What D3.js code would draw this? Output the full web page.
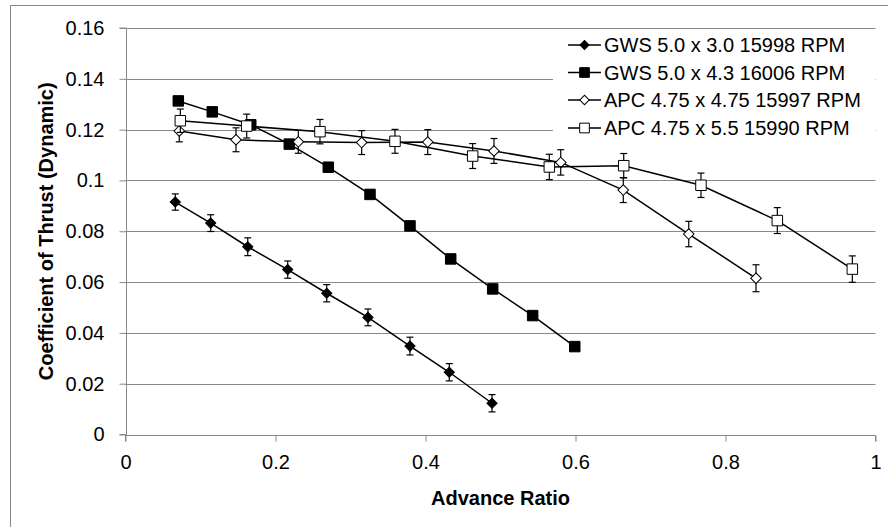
<!DOCTYPE html>
<html>
<head>
<meta charset="utf-8">
<script src="https://cdn.jsdelivr.net/npm/d3@7"></script>
<style>
  html, body { margin: 0; padding: 0; background: #fff; }
  svg { display: block; font-family: "Liberation Sans", Arial, sans-serif; }
</style>
</head>
<body>
<svg id="chart" width="888" height="527"></svg>
<script>
// Advance ratio (J) and dynamic thrust coefficient for each propeller
const gws30J   = [0.0664, 0.1136, 0.1630, 0.2163, 0.2683, 0.3233, 0.3793, 0.4317, 0.4887];
const gws30Ct  = [0.0915, 0.0832, 0.0739, 0.0649, 0.0556, 0.0461, 0.0348, 0.0245, 0.0123];
const gws30Err = [0.0032, 0.0033, 0.0035, 0.0034, 0.0034, 0.0033, 0.0035, 0.0034, 0.0034];

const gws43J   = [0.0704, 0.1157, 0.1670, 0.2184, 0.2704, 0.3260, 0.3793, 0.4336, 0.4896, 0.5429, 0.5990];
const gws43Ct  = [0.1313, 0.1270, 0.1219, 0.1143, 0.1052, 0.0945, 0.0821, 0.0691, 0.0573, 0.0468, 0.0346];

const apc475J   = [0.0717, 0.1473, 0.2304, 0.3149, 0.4030, 0.4913, 0.5803, 0.6637, 0.7510, 0.8407];
const apc475Ct  = [0.1195, 0.1160, 0.1152, 0.1149, 0.1151, 0.1116, 0.1071, 0.0962, 0.0789, 0.0615];
const apc475Err = [0.0043, 0.0047, 0.0045, 0.0047, 0.0049, 0.0049, 0.0050, 0.0049, 0.0050, 0.0053];

const apc55J   = [0.0731, 0.1616, 0.2593, 0.3593, 0.4629, 0.5651, 0.6643, 0.7673, 0.8691, 0.9691];
const apc55Ct  = [0.1235, 0.1214, 0.1192, 0.1154, 0.1096, 0.1053, 0.1058, 0.0981, 0.0842, 0.0651];
const apc55Err = [0.0046, 0.0047, 0.0048, 0.0047, 0.0049, 0.0050, 0.0048, 0.0048, 0.0051, 0.0052];

const seriesNames = [
  "GWS 5.0 x 3.0 15998 RPM",
  "GWS 5.0 x 4.3 16006 RPM",
  "APC 4.75 x 4.75 15997 RPM",
  "APC 4.75 x 5.5 15990 RPM"
];

const xTicks = [0, 0.2, 0.4, 0.6, 0.8, 1];
const yTicks = [0, 0.02, 0.04, 0.06, 0.08, 0.1, 0.12, 0.14, 0.16];

const xTitle = "Advance Ratio";
const yTitle = "Coefficient of Thrust (Dynamic)";

// Series table assembled from the arrays above (diamonds are squares turned 45°)
const series = [
  { name: seriesNames[0], x: gws30J,  y: gws30Ct,  err: gws30Err,  rot: 45, size: 52,  fill: "#000" },
  { name: seriesNames[1], x: gws43J,  y: gws43Ct,  err: null,      rot: 0,  size: 110, fill: "#000" },
  { name: seriesNames[2], x: apc475J, y: apc475Ct, err: apc475Err, rot: 45, size: 56,  fill: "#fff" },
  { name: seriesNames[3], x: apc55J,  y: apc55Ct,  err: apc55Err,  rot: 0,  size: 110, fill: "#fff" }
];

const svg = d3.select("#chart");
const gridColor = "#898989";
const fontSize = 20;

// Outer chart frame
svg.append("rect")
  .attr("x", 10.5).attr("y", 5.5)
  .attr("width", 900).attr("height", 540)
  .attr("fill", "#fff").attr("stroke", gridColor).attr("stroke-width", 1);

const x = d3.scaleLinear().domain([0, 1]).range([125.5, 875.5]);
const y = d3.scaleLinear().domain([0, 0.16]).range([434.5, 28]);

// Horizontal gridlines
svg.append("g")
  .selectAll("line")
  .data(yTicks.filter(t => t > 0))
  .join("line")
  .attr("x1", x(0)).attr("x2", x(1))
  .attr("y1", d => Math.round(y(d)) + 0.5).attr("y2", d => Math.round(y(d)) + 0.5)
  .attr("stroke", gridColor).attr("stroke-width", 1);

// Axes
const xAxis = d3.axisBottom(x).tickValues(xTicks).tickSize(6).tickPadding(13)
  .tickFormat(d => d3.format("~g")(d));
const yAxis = d3.axisLeft(y).tickValues(yTicks).tickSize(7).tickPadding(15)
  .tickFormat(d => d3.format("~g")(d));

const gx = svg.append("g").attr("transform", `translate(0,${Math.round(y(0)) + 0.5})`).call(xAxis);
const gy = svg.append("g").attr("transform", `translate(${Math.round(x(0)) + 0.5},0)`).call(yAxis);

[gx, gy].forEach(g => {
  g.select(".domain").attr("stroke", gridColor).attr("stroke-width", 1);
  g.selectAll(".tick line").attr("stroke", gridColor).attr("stroke-width", 1);
  g.selectAll(".tick text")
    .attr("fill", "#000")
    .attr("font-size", fontSize)
    .attr("font-family", '"Liberation Sans", Arial, sans-serif');
});
gx.select(".domain").attr("d", `M${x(0)},6V0H${x(1)}V6`);
gy.select(".domain").attr("d", `M-7,${y(0.16)}H0V${y(0)}H-7`);

// Axis titles
svg.append("text")
  .attr("x", (x(0) + x(1)) / 2).attr("y", 504.5)
  .attr("text-anchor", "middle")
  .attr("font-size", fontSize).attr("font-weight", "bold")
  .text(xTitle);

svg.append("text")
  .attr("transform", `translate(53,${(y(0) + y(0.16)) / 2}) rotate(-90)`)
  .attr("text-anchor", "middle")
  .attr("font-size", fontSize).attr("font-weight", "bold")
  .text(yTitle);

// Data series: connecting line, error bars, then markers
const line = d3.line().x(d => x(d[0])).y(d => y(d[1]));
const capHalf = 3.5;

series.forEach(s => {
  const pts = s.x.map((v, i) => [v, s.y[i], s.err ? s.err[i] : 0]);
  const g = svg.append("g");

  g.append("path")
    .datum(pts)
    .attr("d", line)
    .attr("fill", "none")
    .attr("stroke", "#000")
    .attr("stroke-width", 1.5);

  if (s.err) {
    const eb = g.append("g").selectAll("g").data(pts).join("g");
    eb.append("line")
      .attr("x1", d => x(d[0])).attr("x2", d => x(d[0]))
      .attr("y1", d => y(d[1] + d[2])).attr("y2", d => y(d[1] - d[2]))
      .attr("stroke", "#000").attr("stroke-width", 1.2);
    [1, -1].forEach(sign => {
      eb.append("line")
        .attr("x1", d => x(d[0]) - capHalf).attr("x2", d => x(d[0]) + capHalf)
        .attr("y1", d => y(d[1] + sign * d[2])).attr("y2", d => y(d[1] + sign * d[2]))
        .attr("stroke", "#000").attr("stroke-width", 1.2);
    });
  }

  g.append("g").selectAll("path")
    .data(pts)
    .join("path")
    .attr("transform", d => `translate(${x(d[0])},${y(d[1])}) rotate(${s.rot})`)
    .attr("d", d3.symbol().type(d3.symbolSquare).size(s.size))
    .attr("fill", s.fill)
    .attr("stroke", "#000")
    .attr("stroke-width", 1);
});

// Legend
const legend = svg.append("g");
legend.append("rect")
  .attr("x", 553).attr("y", 31).attr("width", 322).attr("height", 112)
  .attr("fill", "#fff");

const rowY = [45, 72.5, 100, 128];
series.forEach((s, i) => {
  const r = legend.append("g").attr("transform", `translate(0,${rowY[i]})`);
  r.append("line")
    .attr("x1", 568).attr("x2", 601).attr("y1", 0).attr("y2", 0)
    .attr("stroke", "#000").attr("stroke-width", 1.5);
  r.append("path")
    .attr("transform", `translate(584.5,0) rotate(${s.rot})`)
    .attr("d", d3.symbol().type(d3.symbolSquare).size(s.rot ? s.size * 0.8 : s.size * 0.85))
    .attr("fill", s.fill).attr("stroke", "#000").attr("stroke-width", 1);
  r.append("text")
    .attr("x", 604).attr("y", 7)
    .attr("font-size", fontSize)
    .attr("fill", "#000")
    .text(s.name);
});
</script>
</body>
</html>
